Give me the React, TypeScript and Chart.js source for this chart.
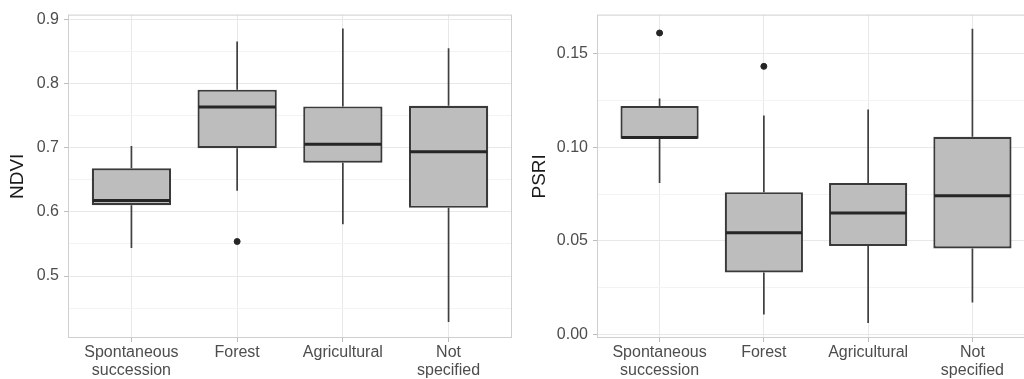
import React, { useEffect, useRef } from "react";
import { Chart, registerables } from "chart.js";

Chart.register(...registerables);

const FONT = "'Liberation Sans', Arial, Helvetica, sans-serif";

const CATEGORIES: string[][] = [["Spontaneous", "succession"], ["Forest"], ["Agricultural"], ["Not", "specified"]];
const CAT_POS = [1, 2, 3, 4];

// NDVI panel
const NDVI_LOW = [0.5437, 0.6329, 0.5806, 0.4283];
const NDVI_Q1 = [0.6103, 0.6991, 0.6765, 0.6062];
const NDVI_MEDIAN = [0.6175, 0.7631, 0.7052, 0.6934];
const NDVI_Q3 = [0.6677, 0.7903, 0.7642, 0.7652];
const NDVI_HIGH = [0.7026, 0.8652, 0.8857, 0.8549];
const NDVI_OUTLIERS: number[][] = [[], [0.5538], [], []];
const NDVI_MAJOR_TICKS = [0.5, 0.6, 0.7, 0.8, 0.9];
const NDVI_MINOR_TICKS = [0.45, 0.55, 0.65, 0.75, 0.85];

// PSRI panel
const PSRI_LOW = [0.0809, 0.0108, 0.0062, 0.0171];
const PSRI_Q1 = [0.1045, 0.0331, 0.0473, 0.0459];
const PSRI_MEDIAN = [0.1052, 0.0544, 0.0649, 0.0741];
const PSRI_Q3 = [0.1219, 0.076, 0.0809, 0.1055];
const PSRI_HIGH = [0.1259, 0.1169, 0.1201, 0.1632];
const PSRI_OUTLIERS: number[][] = [[0.1609], [0.1431], [], []];
const PSRI_MAJOR_TICKS = [0.0, 0.05, 0.1, 0.15];
const PSRI_MINOR_TICKS = [0.025, 0.075, 0.125];

const BOX_FILL = "#bdbdbd";
const BOX_LINE = "#3a3a3a";

const boxExtras = {
  id: "boxExtras",
  beforeDatasetsDraw(chart: any) {
    const o = chart.options.plugins.boxExtras;
    if (!o) return;
    const { ctx } = chart;
    const xs = chart.scales.x;
    const ys = chart.scales.y;
    ctx.save();
    ctx.strokeStyle = "#404040";
    ctx.lineWidth = 1.7;
    o.pos.forEach((p: number, i: number) => {
      const x = xs.getPixelForValue(p);
      ctx.beginPath();
      ctx.moveTo(x, ys.getPixelForValue(o.q3[i]));
      ctx.lineTo(x, ys.getPixelForValue(o.high[i]));
      ctx.moveTo(x, ys.getPixelForValue(o.q1[i]));
      ctx.lineTo(x, ys.getPixelForValue(o.low[i]));
      ctx.stroke();
    });
    ctx.restore();
  },
  afterDatasetsDraw(chart: any) {
    const o = chart.options.plugins.boxExtras;
    if (!o) return;
    const { ctx } = chart;
    const ys = chart.scales.y;
    const meta = chart.getDatasetMeta(0);
    ctx.save();
    ctx.strokeStyle = "#262626";
    ctx.lineWidth = 3;
    meta.data.forEach((el: any, i: number) => {
      const y = ys.getPixelForValue(o.med[i]);
      ctx.beginPath();
      ctx.moveTo(el.x - el.width / 2 + 1, y);
      ctx.lineTo(el.x + el.width / 2 - 1, y);
      ctx.stroke();
    });
    const a = chart.chartArea;
    ctx.strokeStyle = "#cfcfcf";
    ctx.lineWidth = 1;
    ctx.strokeRect(a.left + 0.5, a.top + 0.5, a.right - a.left - 1, a.bottom - a.top - 1);
    ctx.restore();
  },
};

function makeChart(
  canvas: HTMLCanvasElement,
  p: {
    title: string;
    low: number[];
    q1: number[];
    med: number[];
    q3: number[];
    high: number[];
    outliers: number[][];
    major: number[];
    minor: number[];
    min: number;
    max: number;
    decimals: number;
    yWidth: number;
    titlePad: number;
    padRight: number;
  }
) {
  const isMajor = (v: number) => p.major.some((m) => Math.abs(m - v) < 1e-9);
  const outlierPts: { x: number; y: number }[] = [];
  p.outliers.forEach((arr, i) => arr.forEach((v) => outlierPts.push({ x: CAT_POS[i], y: v })));
  return new Chart(canvas, {
    type: "bar",
    data: {
      datasets: [
        {
          type: "bar",
          data: CAT_POS.map((x, i) => ({ x, y: [p.q1[i], p.q3[i]] })) as any,
          backgroundColor: BOX_FILL,
          borderColor: BOX_LINE,
          borderWidth: 2.2,
          borderSkipped: false,
          barPercentage: 0.75,
          categoryPercentage: 1,
        } as any,
        {
          type: "scatter",
          data: outlierPts,
          backgroundColor: "#262626",
          borderColor: "#262626",
          pointRadius: 3,
          pointHoverRadius: 3,
        } as any,
      ],
    },
    options: {
      animation: false,
      responsive: false,
      devicePixelRatio: 1,
      layout: { padding: { top: 11, right: p.padRight, left: 0, bottom: 0 } },
      plugins: {
        legend: { display: false },
        tooltip: { enabled: false },
        boxExtras: { pos: CAT_POS, low: p.low, q1: p.q1, med: p.med, q3: p.q3, high: p.high },
      } as any,
      scales: {
        x: {
          type: "linear",
          min: 0.4,
          max: 4.6,
          offset: false,
          afterBuildTicks: (s: any) => {
            s.ticks = CAT_POS.map((v) => ({ value: v }));
          },
          afterFit: (s: any) => {
            s.height = 41;
          },
          ticks: {
            autoSkip: false,
            maxRotation: 0,
            minRotation: 0,
            color: "#4d4d4d",
            font: { family: FONT, size: 16, lineHeight: 1.1 },
            padding: 2,
            callback: (v: any) => CATEGORIES[Math.round(Number(v)) - 1] as any,
          },
          grid: {
            offset: false,
            color: "#e8e8e8",
            tickColor: "#bdbdbd",
            tickLength: 4,
            lineWidth: 1,
          },
          border: { display: false },
        } as any,
        y: {
          type: "linear",
          min: p.min,
          max: p.max,
          beginAtZero: false,
          afterBuildTicks: (s: any) => {
            s.ticks = [...p.major, ...p.minor].sort((a, b) => a - b).map((v) => ({ value: v }));
          },
          afterFit: (s: any) => {
            s.width = p.yWidth;
          },
          ticks: {
            color: "#4d4d4d",
            font: { family: FONT, size: 16 },
            padding: 5,
            callback: (v: any) => (isMajor(Number(v)) ? Number(v).toFixed(p.decimals) : ""),
          },
          grid: {
            color: (c: any) => (c.tick && isMajor(c.tick.value) ? "#e8e8e8" : "#f3f3f3"),
            tickColor: (c: any) => (c.tick && isMajor(c.tick.value) ? "#bdbdbd" : "rgba(0,0,0,0)"),
            tickLength: 4,
            lineWidth: 1,
          },
          border: { display: false },
          title: {
            display: true,
            text: p.title,
            color: "#1a1a1a",
            font: { family: FONT, size: 19 },
            padding: { top: p.titlePad, bottom: 0 },
          },
        } as any,
      },
    },
    plugins: [boxExtras],
  });
}

export default function App() {
  const ref1 = useRef<HTMLCanvasElement>(null);
  const ref2 = useRef<HTMLCanvasElement>(null);

  useEffect(() => {
    const c1 = makeChart(ref1.current!, {
      title: "NDVI",
      low: NDVI_LOW,
      q1: NDVI_Q1,
      med: NDVI_MEDIAN,
      q3: NDVI_Q3,
      high: NDVI_HIGH,
      outliers: NDVI_OUTLIERS,
      major: NDVI_MAJOR_TICKS,
      minor: NDVI_MINOR_TICKS,
      min: 0.4035,
      max: 0.9072,
      decimals: 1,
      yWidth: 68,
      titlePad: 6,
      padRight: 8,
    });
    const c2 = makeChart(ref2.current!, {
      title: "PSRI",
      low: PSRI_LOW,
      q1: PSRI_Q1,
      med: PSRI_MEDIAN,
      q3: PSRI_Q3,
      high: PSRI_HIGH,
      outliers: PSRI_OUTLIERS,
      major: PSRI_MAJOR_TICKS,
      minor: PSRI_MINOR_TICKS,
      min: -0.0018,
      max: 0.1707,
      decimals: 2,
      yWidth: 77,
      titlePad: 8,
      padRight: 5,
    });
    return () => {
      c1.destroy();
      c2.destroy();
    };
  }, []);

  return (
    <div
      style={{
        position: "fixed",
        left: 0,
        top: 0,
        width: 1024,
        height: 379,
        overflow: "hidden",
        background: "#ffffff",
      }}
    >
      <canvas
        ref={ref1}
        width={520}
        height={379}
        style={{ position: "absolute", left: 0, top: 0, width: 520, height: 379 }}
      />
      <canvas
        ref={ref2}
        width={520}
        height={379}
        style={{ position: "absolute", left: 520, top: 0, width: 520, height: 379 }}
      />
    </div>
  );
}
